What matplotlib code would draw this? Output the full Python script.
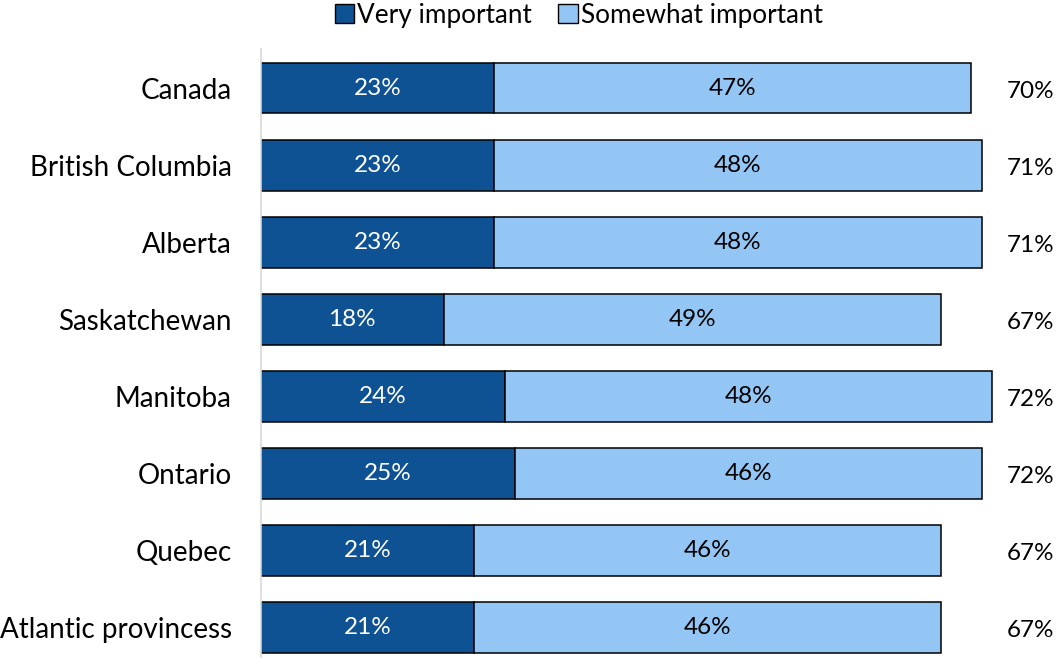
import matplotlib
matplotlib.use("Agg")
import matplotlib.pyplot as plt
from matplotlib.patches import Patch

plt.rcParams['font.family'] = ['Lato', 'DejaVu Sans']

regions = ["Canada", "British Columbia", "Alberta", "Saskatchewan",
           "Manitoba", "Ontario", "Quebec", "Atlantic provincess"]
very_important = [23, 23, 23, 18, 24, 25, 21, 21]
somewhat_important = [47, 48, 48, 49, 48, 46, 46, 46]
totals = [70, 71, 71, 67, 72, 72, 67, 67]

dark_blue = "#0F5294"
light_blue = "#93C6F4"

fig = plt.figure(figsize=(10.6, 6.58), dpi=100)
ax = fig.add_axes([0.2462, 0.0, 0.7469, 0.9248])

y = list(range(len(regions)))
ax.barh(y, very_important, height=0.66, color=dark_blue,
        edgecolor="black", linewidth=1.1)
ax.barh(y, somewhat_important, left=very_important, height=0.66,
        color=light_blue, edgecolor="black", linewidth=1.1)

# value labels inside segments, totals on the right
for i in y:
    ax.text(very_important[i] / 2, i, f"{very_important[i]}%", ha="center",
            va="center", color="white", fontsize=17.5)
    ax.text(very_important[i] + somewhat_important[i] / 2, i,
            f"{somewhat_important[i]}%", ha="center", va="center",
            color="black", fontsize=17.5)
    ax.text(78.2, i + 0.04, f"{totals[i]}%", ha="right", va="center",
            color="black", fontsize=17.5, clip_on=False)

ax.set_xlim(0, 78)
ax.set_ylim(7.393, -0.5)
ax.set_yticks(y)
ax.set_yticklabels(regions, fontsize=20)
ax.set_xticks([])
ax.tick_params(axis="y", length=0, pad=21)

for side in ["top", "right", "bottom"]:
    ax.spines[side].set_visible(False)
ax.spines["left"].set_color("#D9D9D9")
ax.spines["left"].set_linewidth(1.2)

handles = [Patch(facecolor=dark_blue, edgecolor="black", label="Very important"),
           Patch(facecolor=light_blue, edgecolor="black", label="Somewhat important")]
fig.legend(handles=handles, loc="center", bbox_to_anchor=(0.546, 0.977), ncol=2,
           frameon=False, fontsize=18.8, handlelength=0.75, handleheight=0.75,
           handletextpad=0.12, columnspacing=1.0, borderpad=0)

fig.savefig("out.png", dpi=100)
